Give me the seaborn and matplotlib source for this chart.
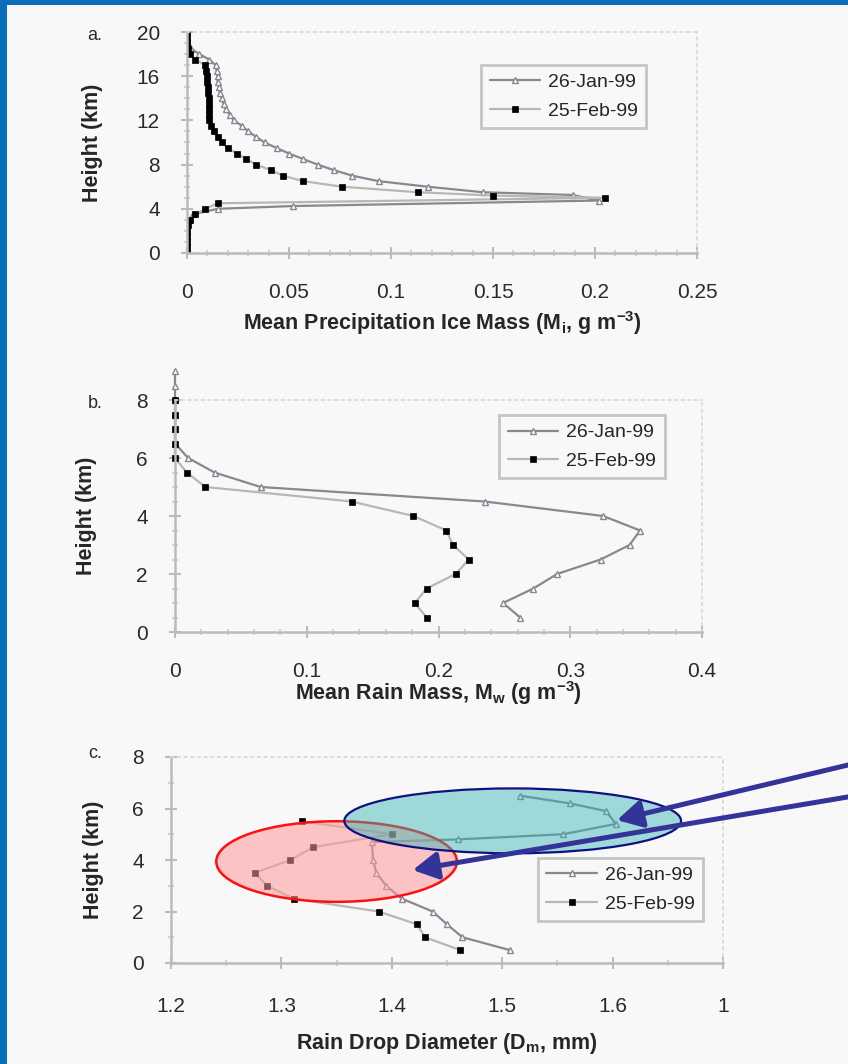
import matplotlib
matplotlib.use("Agg")
import matplotlib.pyplot as plt
import seaborn as sns
from matplotlib import font_manager
from matplotlib.patches import Ellipse, Rectangle
from matplotlib.ticker import MultipleLocator, FuncFormatter, FixedLocator

# ---------------- data ----------------
series_names = ["26-Jan-99", "25-Feb-99"]

# a. mean precipitation ice mass profiles (g m-3) vs height (km)
ice_h_jan = [0, 0.5, 1, 1.5, 2, 2.5, 3, 3.5, 4, 4.25, 4.75, 5.25, 5.5, 6, 6.5, 7, 7.5, 8,
             8.5, 9, 9.5, 10, 10.5, 11, 11.5, 12, 12.5, 13, 13.5, 14, 14.5, 15, 15.5, 16,
             16.5, 17, 17.5, 18, 18.5, 19, 19.5, 20]
ice_m_jan = [0, 0, 0, 0, 0, 0, 0.001, 0.003, 0.015, 0.052, 0.202, 0.189, 0.145, 0.118, 0.094,
             0.081, 0.072, 0.064, 0.057, 0.050, 0.044, 0.038, 0.034, 0.030, 0.027, 0.023,
             0.021, 0.019, 0.018, 0.017, 0.016, 0.0155, 0.015, 0.015, 0.0145, 0.014, 0.011,
             0.006, 0.002, 0.0005, 0, 0]
ice_h_feb = [0, 0.5, 1, 1.5, 2, 2.5, 3, 3.5, 4, 4.5, 5, 5.2, 5.5, 6, 6.5, 7, 7.5, 8, 8.5,
             9, 9.5, 10, 10.5, 11, 11.5, 12, 12.5, 13, 13.5, 14, 14.5, 15, 15.5, 16, 16.5,
             17, 17.5, 18, 18.5, 19, 19.5, 20]
ice_m_feb = [0, 0, 0, 0, 0, 0.0005, 0.0015, 0.004, 0.009, 0.015, 0.205, 0.150, 0.113, 0.076,
             0.057, 0.047, 0.041, 0.034, 0.029, 0.0245, 0.020, 0.017, 0.015, 0.013, 0.012,
             0.011, 0.011, 0.011, 0.011, 0.011, 0.0105, 0.0105, 0.010, 0.010, 0.0095, 0.009,
             0.004, 0.0015, 0.0005, 0, 0, 0]

# b. mean rain mass profiles (g m-3)
rain_h_jan = [0.5, 1, 1.5, 2, 2.5, 3, 3.5, 4, 4.5, 5, 5.5, 6, 6.5, 7, 7.5, 8, 8.5, 9]
rain_m_jan = [0.262, 0.249, 0.272, 0.290, 0.323, 0.345, 0.353, 0.325, 0.235, 0.065, 0.030,
              0.010, 0, 0, 0, 0, 0, 0]
rain_h_feb = [0.5, 1, 1.5, 2, 2.5, 3, 3.5, 4, 4.5, 5, 5.5, 6, 6.5, 7, 7.5, 8]
rain_m_feb = [0.191, 0.182, 0.191, 0.213, 0.223, 0.211, 0.206, 0.181, 0.134, 0.023, 0.009,
              0, 0, 0, 0, 0]

# c. rain drop diameter profiles (mm)
dm_h_jan = [0.5, 1, 1.5, 2, 2.5, 3, 3.5, 4, 4.7, 4.8, 5.0, 5.4, 5.9, 6.2, 6.5]
dm_jan = [1.507, 1.464, 1.450, 1.437, 1.409, 1.395, 1.386, 1.383, 1.382, 1.460, 1.555,
          1.603, 1.594, 1.561, 1.516]
dm_h_feb = [0.5, 1, 1.5, 2, 2.5, 3, 3.5, 4, 4.5, 5, 5.5]
dm_feb = [1.462, 1.430, 1.423, 1.388, 1.311, 1.287, 1.276, 1.308, 1.329, 1.400, 1.319]
dm_xticks = [1.2, 1.3, 1.4, 1.5, 1.6, 1.7]
dm_xtick_labels = ["1.2", "1.3", "1.4", "1.5", "1.6", "1"]

# ---------------- style ----------------
sns.set_theme(style="ticks")
installed = {f.name for f in font_manager.fontManager.ttflist}
narrow = "Liberation Sans Narrow" in installed
# the original text is tall and condensed (Arial Narrow look)
plt.rcParams["font.family"] = (["Liberation Sans Narrow"] if narrow else []) + \
    ["Liberation Sans", "DejaVu Sans"]
plt.rcParams["mathtext.default"] = "regular"
TICK_FS = 18 if narrow else 15
LAB_FS = 19 if narrow else 15.5
LEG_FS = 18 if narrow else 14

JAN = dict(color="#8b8692", marker="^", markersize=5, markerfacecolor="white",
           markeredgecolor="#8b8692", markeredgewidth=1.0, linewidth=1.6)
FEB = dict(color="#b3b9b3", marker="s", markersize=4, markerfacecolor="black",
           markeredgecolor="black", markeredgewidth=0.5, linewidth=1.6)
AXIS_C = "#b9bdb9"

W, H = 848, 1064
fig = plt.figure(figsize=(W / 100, H / 100), dpi=100)
fig.patch.set_facecolor("#0a6fba")
fig.add_artist(Rectangle((7 / W, 0), 1 - 7 / W, 1 - 5 / H, transform=fig.transFigure,
                         facecolor="#f8f8f8", edgecolor="none", zorder=-10))


def px_axes(left, right, top, bottom):
    return fig.add_axes([left / W, 1 - bottom / H, (right - left) / W, (bottom - top) / H])


def style_axes(ax, xpad=17):
    ax.set_facecolor("none")
    for s in ["left", "bottom"]:
        ax.spines[s].set_color(AXIS_C)
        ax.spines[s].set_linewidth(1.8)
    for s in ["top", "right"]:
        ax.spines[s].set_color("#d6d9d6")
        ax.spines[s].set_linestyle((0, (1.5, 2.5)))
        ax.spines[s].set_linewidth(1.2)
    ax.tick_params(which="major", direction="inout", length=9, width=1.5, color=AXIS_C,
                   labelsize=TICK_FS, labelcolor="#2a2a2a")
    ax.tick_params(which="minor", direction="inout", length=5, width=1.2, color="#c8ccc8")
    ax.tick_params(axis="x", which="major", pad=xpad)
    ax.tick_params(axis="y", which="major", pad=15)


def profile(ax, x, y, style, label, clip=True, **extra):
    kw = dict(style, **extra)
    sns.lineplot(x=x, y=y, orient="y", errorbar=None, ax=ax, label=label,
                 clip_on=clip, **kw)


def add_legend(ax, x0, y1):
    leg = ax.legend(loc="upper left", bbox_to_anchor=(x0, y1), frameon=True, fancybox=False,
                    edgecolor="#c3c7c3", facecolor="#f8f8f8", framealpha=1, fontsize=LEG_FS,
                    handlelength=2.6, handletextpad=0.4, borderpad=0.45, labelspacing=0.55,
                    borderaxespad=0)
    leg.get_frame().set_linewidth(2)
    return leg


def labels(ax, xlab, xoff, yoff):
    ax.set_xlabel(xlab, fontsize=LAB_FS, fontweight="bold")
    ax.set_ylabel("Height (km)", fontsize=LAB_FS, fontweight="bold")
    ax.xaxis.label.set_va("center")
    ax.xaxis.set_label_coords(0.5, xoff)
    ax.yaxis.set_label_coords(yoff, 0.5)


fmt = FuncFormatter(lambda v, p: f"{v:g}")

# ---- panel a ----
ax_a = px_axes(187, 697, 32, 253)
style_axes(ax_a)
profile(ax_a, ice_m_jan, ice_h_jan, JAN, series_names[0])
profile(ax_a, ice_m_feb, ice_h_feb, FEB, series_names[1], markersize=5)
ax_a.set_xlim(0, 0.25)
ax_a.set_ylim(0, 20)
ax_a.xaxis.set_major_locator(MultipleLocator(0.05))
ax_a.xaxis.set_minor_locator(MultipleLocator(0.01))
ax_a.yaxis.set_major_locator(MultipleLocator(4))
ax_a.yaxis.set_minor_locator(MultipleLocator(1))
ax_a.xaxis.set_major_formatter(fmt)
labels(ax_a, "Mean Precipitation Ice Mass (M$_i$, g m$^{-3}$)", -70 / 221, -84 / 510)
add_legend(ax_a, 0.576, 0.851)

# ---- panel b ----
ax_b = px_axes(175, 702, 400, 632)
style_axes(ax_b)
profile(ax_b, rain_m_jan, rain_h_jan, JAN, series_names[0], clip=False)
profile(ax_b, rain_m_feb, rain_h_feb, FEB, series_names[1], clip=False)
ax_b.set_xlim(0, 0.4)
ax_b.set_ylim(0, 8)
ax_b.xaxis.set_major_locator(MultipleLocator(0.1))
ax_b.xaxis.set_minor_locator(MultipleLocator(0.02))
ax_b.yaxis.set_major_locator(MultipleLocator(2))
ax_b.yaxis.set_minor_locator(MultipleLocator(0.5))
ax_b.xaxis.set_major_formatter(fmt)
labels(ax_b, "Mean Rain Mass, M$_w$ (g m$^{-3}$)", -61 / 232, -78 / 527)
add_legend(ax_b, 0.615, 0.935)

# ---- panel c ----
ax_c = px_axes(171, 723, 757, 963)
style_axes(ax_c, xpad=20)
profile(ax_c, dm_jan, dm_h_jan, JAN, series_names[0])
profile(ax_c, dm_feb, dm_h_feb, FEB, series_names[1])
ax_c.set_xlim(1.2, 1.7)
ax_c.set_ylim(0, 8)
ax_c.xaxis.set_major_locator(FixedLocator(dm_xticks))
ax_c.set_xticklabels(dm_xtick_labels)
ax_c.xaxis.set_minor_locator(MultipleLocator(0.05))
ax_c.yaxis.set_major_locator(MultipleLocator(2))
ax_c.yaxis.set_minor_locator(MultipleLocator(1))
labels(ax_c, "Rain Drop Diameter (D$_m$, mm)", -80 / 206, -67 / 552)
add_legend(ax_c, 0.664, 0.51)

# highlight ellipses and arrows
ax_c.add_patch(Ellipse((1.35, 3.94), 0.218, 3.13, facecolor=(1, 0.6, 0.6, 0.55),
                       edgecolor="#ff1010", linewidth=1.8, zorder=3))
ax_c.add_patch(Ellipse((1.5095, 5.52), 0.305, 2.52, facecolor=(0.2, 0.7, 0.7, 0.45),
                       edgecolor="#101080", linewidth=1.6, zorder=3.1))
for tip, start in [((1.604, 5.55), (1.0, 0.281)), ((1.419, 3.61), (1.0, 0.251))]:
    ax_c.annotate("", xy=tip, xycoords="data", xytext=start, textcoords="figure fraction",
                  arrowprops=dict(arrowstyle="-|>,head_length=1.0,head_width=0.55",
                                  mutation_scale=15, color="#333399", lw=3.6,
                                  shrinkA=0, shrinkB=0),
                  annotation_clip=False, zorder=6)

# panel letters
for letter, ypix in [("a.", 35), ("b.", 403), ("c.", 753)]:
    fig.text(95 / W, 1 - ypix / H, letter, fontsize=TICK_FS - 2, color="#2a2a2a",
             ha="center", va="center")

fig.savefig("out.png", dpi=100, facecolor=fig.get_facecolor())
